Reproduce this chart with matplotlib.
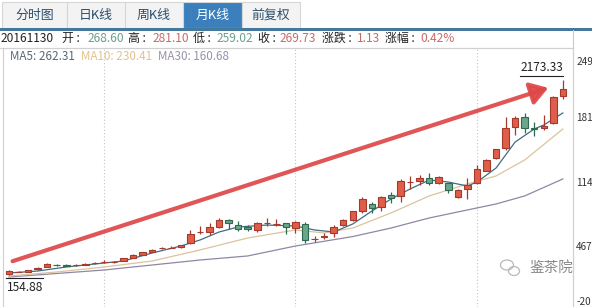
import matplotlib
matplotlib.use('Agg')
import matplotlib.pyplot as plt
from matplotlib.patches import Rectangle, Ellipse, FancyArrowPatch
from matplotlib.transforms import ScaledTranslation
import numpy as np

plt.rcParams['font.family'] = ['Noto Sans CJK SC', 'DejaVu Sans']

# monthly candles, oldest first
opens = [170, 188, 191, 214, 241, 262, 262, 255, 262, 274,
         286, 285, 303, 334, 365, 395, 430, 437, 442, 483,
         595, 597, 649, 724, 672, 648, 621, 688, 683, 690,
         640, 680, 527, 551, 593, 672, 724, 820, 887, 856,
         983, 973, 1118, 1131, 1156, 1110, 1104, 965, 1042, 1104,
         1235, 1363, 1466, 1683, 1787, 1680, 1673, 1725, 2008]
highs = [207, 200, 210, 236, 283, 272, 270, 266, 275, 290,
         305, 300, 335, 370, 398, 428, 448, 450, 470, 621,
         665, 690, 748, 730, 714, 672, 707, 748, 735, 696,
         714, 704, 559, 587, 672, 730, 822, 959, 914, 973,
         1017, 1145, 1180, 1190, 1214, 1175, 1112, 1045, 1156, 1293,
         1352, 1463, 1793, 1801, 1828, 1742, 1811, 2005, 2173.33]
lows = [154.88, 182, 186, 210, 238, 250, 244, 250, 258, 268,
        280, 278, 298, 330, 360, 390, 422, 430, 438, 475,
        576, 569, 640, 628, 610, 610, 597, 665, 662, 576,
        590, 483, 500, 530, 545, 665, 717, 794, 800, 820,
        903, 914, 1042, 1086, 1086, 1100, 1007, 949, 938, 1095,
        1228, 1356, 1449, 1604, 1622, 1594, 1660, 1721, 1974]
closes = [196, 190, 205, 230, 266, 260, 248, 258, 268, 276,
          289, 290, 328, 362, 390, 418, 432, 438, 465, 576,
          598, 649, 724, 690, 631, 634, 690, 690, 684, 649,
          705, 517, 530, 554, 655, 724, 817, 938, 852, 959,
          949, 1128, 1121, 1156, 1104, 1166, 1035, 1035, 1086, 1249,
          1345, 1456, 1673, 1777, 1673, 1663, 1700, 1994, 2077]

ma5_idx = [0, 3, 6, 9, 12, 15, 18, 20, 22, 24, 27, 30, 32, 34, 36, 38, 40, 42,
           44, 46, 48, 49, 51, 53, 55, 56, 58]
ma5_vals = [176, 196, 238, 269, 300, 383, 455, 517, 600, 652, 672, 662, 621, 600,
            683, 817, 941, 1045, 1138, 1117, 1076, 1117, 1262, 1531, 1666, 1707, 1832]
ma10_idx = [0, 5, 10, 15, 20, 25, 30, 33, 36, 40, 44, 48, 51, 54, 58]
ma10_vals = [145, 186, 238, 300, 414, 538, 621, 590, 641, 797, 973, 1097, 1180, 1345, 1666]
ma30_idx = [0, 10, 20, 25, 30, 36, 40, 44, 48, 51, 54, 58]
ma30_vals = [134, 207, 310, 352, 455, 553, 641, 745, 828, 890, 973, 1149]

ytick_vals = [2370, 1785, 1117, 455, -115]
ytick_labels = ['249', '181', '114', '467', '-20']
grid_idx = [10, 30, 49]

arrow_start = (0.1, 289)
arrow_end = (56.75, 2101)

tabs = ['分时图', '日K线', '周K线', '月K线', '前复权']
active_tab = 3
info_date = '20161130'
info_items = [('开', '268.60', 'g'), ('高', '281.10', 'r'), ('低', '259.02', 'g'),
              ('收', '269.73', 'r'), ('涨跌', '1.13', 'r'), ('涨幅', '0.42%', 'r')]
ma_labels = ['MA5: 262.31', 'MA10: 230.41', 'MA30: 160.68']

RED, RED_EDGE = '#df5e4a', '#a5392b'
GREEN, GREEN_EDGE = '#6aa688', '#2f6a4f'
MA_COLORS = ['#3f6d82', '#dcc39d', '#8f87a5']

W, H = 592, 307
fig = plt.figure(figsize=(W / 100, H / 100), dpi=100)
renderer = fig.canvas.get_renderer()

def fx(x):
    return x / W

def fy(y):
    return 1 - y / H

# background chrome in pixel coords
bg = fig.add_axes([0, 0, 1, 1], zorder=-1)
bg.set_xlim(0, W)
bg.set_ylim(H, 0)
bg.axis('off')

tab_x = [2, 67, 125, 183, 242, 300]
for k, name in enumerate(tabs):
    x0, x1 = tab_x[k], tab_x[k + 1]
    fc = '#3b80bd' if k == active_tab else '#f3f3f3'
    bg.add_patch(Rectangle((x0, 2), x1 - x0, 26, facecolor=fc, edgecolor='#d6d6d6', lw=0.8))
    fig.text(fx((x0 + x1) / 2), fy(15), name, ha='center', va='center', fontsize=9.3,
             color='white' if k == active_tab else '#2c4f6e')
bg.add_patch(Rectangle((0, 28), W, 2.5, facecolor='#44789c', edgecolor='none'))
bg.plot([0, 573], [47.5, 47.5], color='#d4d4d4', lw=0.8)
bg.plot([573, 573], [30, H], color='#cccccc', lw=0.8)

# watermark
bg.add_patch(Ellipse((507, 265), 13, 10, fill=False, edgecolor='#b8b8b8', lw=0.9))
bg.add_patch(Ellipse((514, 271), 11, 9, fill=False, edgecolor='#b8b8b8', lw=0.9))
fig.text(fx(530), fy(268), '鉴茶院', fontsize=10.5, color='#8a8a8a', va='center')

# info rows
fig.text(fx(1), fy(38.5), info_date, fontsize=8.6, color='#222', va='center')
info_x = [62, 128, 193, 258, 322, 385]
val_x = [88, 153, 217, 280, 357, 420]
for (lab, val, c), lx, vx in zip(info_items, info_x, val_x):
    fig.text(fx(lx), fy(38.5), lab + ' :', fontsize=8.6, color='#222', va='center')
    fig.text(fx(vx), fy(38.5), val, fontsize=8.6, va='center',
             color='#69a08a' if c == 'g' else '#c86b66')

ma_text_colors = ['#55697a', '#e6c08c', '#9a8fae']
xpos = 10
for s, c in zip(ma_labels, ma_text_colors):
    t = fig.text(fx(xpos), fy(57), s, fontsize=8.4, color=c, va='center')
    xpos = t.get_window_extent(renderer).x1 + 6

# main chart
ax = fig.add_axes([3 / W, 0, 570 / W, 259 / H])
ax.set_facecolor('none')
ax.set_xlim(-0.628, 59.06)
ax.set_ylim(-176.3, 2504.3)

idx = np.arange(len(opens))
o = np.array(opens)
c = np.array(closes)
up = c >= o
face = np.where(up, RED, GREEN)
edge = np.where(up, RED_EDGE, GREEN_EDGE)

for ma_i, ma_v, col in zip([ma30_idx, ma10_idx, ma5_idx], [ma30_vals, ma10_vals, ma5_vals],
                           [MA_COLORS[2], MA_COLORS[1], MA_COLORS[0]]):
    ax.plot(ma_i, ma_v, color=col, lw=0.9, zorder=2)

ax.vlines(idx, lows, highs, colors=edge, lw=0.9, zorder=3)
bottoms = np.minimum(o, c)
heights = np.maximum(np.abs(c - o), 1)
ax.bar(idx, heights, bottom=bottoms, width=0.68, color=face, edgecolor=edge, lw=0.8, zorder=4)

arrow = FancyArrowPatch(arrow_start, arrow_end, arrowstyle='-|>,head_length=0.7,head_width=0.45',
                        mutation_scale=15, color='#de4748', lw=3, alpha=0.92, zorder=5)
ax.add_patch(arrow)

# max / min labels
hi = int(np.argmax(highs))
lo = int(np.argmin(lows))
ax.annotate(f'{highs[hi]:.2f}', xy=(hi, highs[hi]), xytext=(0, 4.5), textcoords='offset points',
            ha='right', va='bottom', fontsize=8.6, color='#222')
up_off = ax.transData + ScaledTranslation(0, 4 / 100, fig.dpi_scale_trans)
ax.plot([hi - 4.5, hi], [highs[hi], highs[hi]], transform=up_off, color='#222', lw=0.8)
ax.annotate(f'{lows[lo]:.2f}', xy=(lo, lows[lo]), xytext=(-1.5, -4), textcoords='offset points',
            ha='left', va='top', fontsize=8.6, color='#222')
dn_off = ax.transData + ScaledTranslation(0, -2.7 / 100, fig.dpi_scale_trans)
ax.plot([lo - 0.3, lo + 3.6], [lows[lo], lows[lo]], transform=dn_off, color='#222', lw=0.8)

ax.set_xticks(grid_idx)
ax.set_xticklabels([])
ax.grid(axis='x', color='#c4c4c4', ls=(0, (1, 2)), lw=0.8)
ax.yaxis.tick_right()
ax.set_yticks(ytick_vals)
ax.set_yticklabels(ytick_labels)
ax.tick_params(axis='y', length=0, pad=2.2, labelsize=7.2, labelcolor='#333')
ax.tick_params(axis='x', length=0)
ax.spines['bottom'].set_visible(False)
for s in ['left', 'top', 'right']:
    ax.spines[s].set_color('#d0d0d0')
    ax.spines[s].set_linewidth(0.8)

fig.savefig('out.png', dpi=100, facecolor='white')
